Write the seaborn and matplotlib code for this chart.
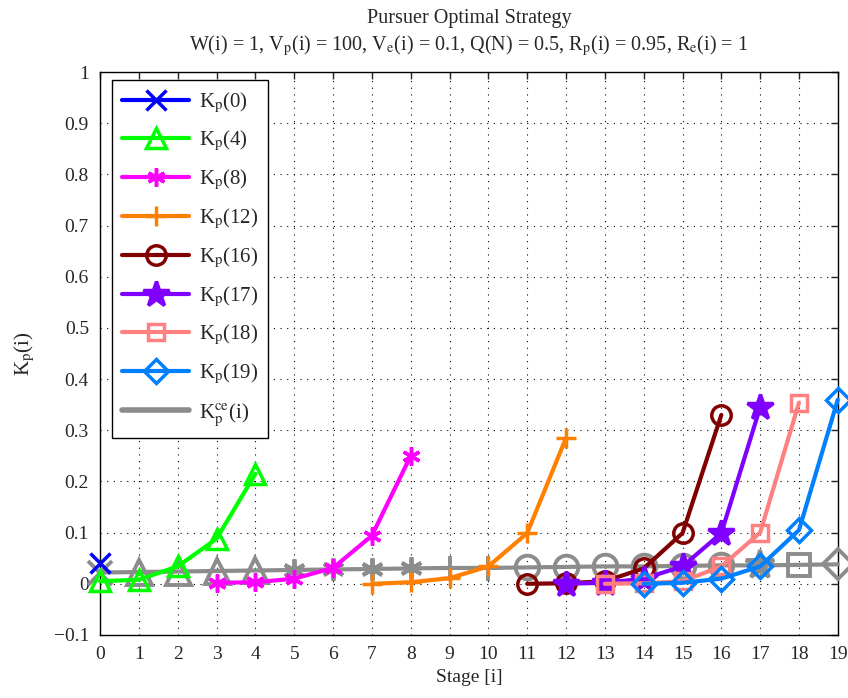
import matplotlib
matplotlib.use("Agg")
import matplotlib.pyplot as plt
import seaborn as sns
import numpy as np
import pandas as pd

# ---- data ----
stages_ce = list(range(20))
k_ce = [0.022, 0.023, 0.024, 0.025, 0.026, 0.027, 0.028, 0.029, 0.030, 0.031,
        0.031, 0.032, 0.033, 0.034, 0.034, 0.035, 0.036, 0.036, 0.037, 0.038]
ce_markers = ['x', '^', '^', '^', '^', 'ast', 'ast', 'ast', 'ast', '+', '+',
              'o', 'o', 'o', 'o', 'o', 'o', '*', 's', 'D']

x_k0 = [0];                    y_k0 = [0.041]
x_k4 = [0, 1, 2, 3, 4];        y_k4 = [0.005, 0.008, 0.034, 0.088, 0.215]
x_k8 = [3, 4, 5, 6, 7, 8];     y_k8 = [0.002, 0.003, 0.010, 0.031, 0.094, 0.250]
x_k12 = [7, 8, 9, 10, 11, 12]; y_k12 = [0.000, 0.003, 0.011, 0.034, 0.099, 0.285]
x_k16 = [11, 12, 13, 14, 15, 16]; y_k16 = [0.000, 0.001, 0.005, 0.030, 0.099, 0.330]
x_k17 = [12, 13, 14, 15, 16, 17]; y_k17 = [0.000, 0.002, 0.010, 0.034, 0.099, 0.345]
x_k18 = [13, 14, 15, 16, 17, 18]; y_k18 = [0.000, 0.001, 0.005, 0.034, 0.100, 0.354]
x_k19 = [14, 15, 16, 17, 18, 19]; y_k19 = [0.000, 0.002, 0.010, 0.034, 0.105, 0.360]

labels = ['K$_\\mathrm{p}$(0)', 'K$_\\mathrm{p}$(4)', 'K$_\\mathrm{p}$(8)', 'K$_\\mathrm{p}$(12)',
          'K$_\\mathrm{p}$(16)', 'K$_\\mathrm{p}$(17)', 'K$_\\mathrm{p}$(18)', 'K$_\\mathrm{p}$(19)',
          'K$_\\mathrm{p}^\\mathrm{ce}$(i)']

# ---- style ----
sns.set_style("white")
plt.rcParams['font.family'] = ['Liberation Serif', 'DejaVu Serif']
plt.rcParams['mathtext.fontset'] = 'stix'

AST = (6, 2, 0)
def mk(m):
    return AST if m == 'ast' else m

fig = plt.figure(figsize=(8.48, 6.98), dpi=100)
ax = fig.add_axes([0.118, 0.0903, 0.870, 0.8065])

lw = 3.0
series = [
    (x_k0, y_k0, 'x', (0, 0, 1), False, 15),
    (x_k4, y_k4, '^', (0, 1, 0), True, 15),
    (x_k8, y_k8, AST, (1, 0, 1), False, 13),
    (x_k12, y_k12, '+', (1, 0.5, 0), False, 15),
    (x_k16, y_k16, 'o', (0.5, 0, 0), True, 14),
    (x_k17, y_k17, '*', (0.5, 0, 1), False, 19),
    (x_k18, y_k18, 's', (1, 0.5, 0.5), True, 12),
    (x_k19, y_k19, 'D', (0, 0.5, 1), True, 12),
]
gray = (0.55, 0.55, 0.55)

handles = []
for i, (xs, ys, m, c, hollow, size) in enumerate(series):
    if i == 7:
        sns.lineplot(x=stages_ce, y=k_ce, ax=ax, color=gray, linewidth=lw,
                     legend=False, zorder=3, clip_on=False)
        for xx, yy, mm in zip(stages_ce, k_ce, ce_markers):
            mm2 = mk(mm)
            hol = mm in ('^', 'o', 's', 'D')
            sz = {'x': 17, '^': 18, 'ast': 16, '+': 18, 'o': 17, '*': 21, 's': 16, 'D': 15}[mm]
            ax.plot([xx], [yy], marker=mm2, markersize=sz, color=gray,
                    markerfacecolor='none' if hol else gray, markeredgewidth=2.8,
                    linestyle='none', zorder=3, clip_on=False)
    kw = dict(marker=m, markersize=size, color=c, linewidth=lw,
              markeredgewidth=2.5, markeredgecolor=c,
              markerfacecolor='none' if hollow else c)
    sns.lineplot(x=xs, y=ys, ax=ax, legend=False, zorder=4, clip_on=False, **kw)
    h, = ax.plot([], [], **kw)
    handles.append(h)
hg, = ax.plot([], [], color=gray, linewidth=lw + 1)
handles.append(hg)

ax.set_xlim(0, 19)
ax.set_ylim(-0.1, 1.0)
ax.set_xticks(range(20))
yt = np.round(np.arange(-0.1, 1.01, 0.1), 1)
ax.set_yticks(yt)
ax.set_yticklabels(['\u22120.1', '0'] + [('%g' % v) for v in yt[2:]])
ax.tick_params(direction='in', top=True, right=True, labelsize=14, length=5, width=1, pad=8)
ax.grid(True, linestyle=(0, (1, 5)), color='black', linewidth=0.8)
for s in ax.spines.values():
    s.set_linewidth(1.0)
    s.set_color('black')

ax.set_xlabel('Stage [i]', fontsize=14, labelpad=4)
ax.set_ylabel('K$_\\mathrm{p}$(i)', fontsize=15, labelpad=12)
ax.set_title('Pursuer Optimal Strategy\nW(i) = 1, V$_\\mathrm{p}$(i) = 100, V$_\\mathrm{e}$(i) = 0.1, Q(N) = 0.5, '
             'R$_\\mathrm{p}$(i) = 0.95, R$_\\mathrm{e}$(i) = 1', fontsize=14.5, pad=16, linespacing=1.25)

leg = ax.legend(handles, labels, loc='upper left', bbox_to_anchor=(12 / 738, 1 - 8 / 563),
                borderaxespad=0, fontsize=15,
                frameon=True, fancybox=False, edgecolor='black', framealpha=1,
                handlelength=3.2, labelspacing=0.7, borderpad=0.5, handletextpad=0.45)
leg.get_frame().set_linewidth(1.0)
leg.set_zorder(10)

fig.savefig('out.png', dpi=100)
